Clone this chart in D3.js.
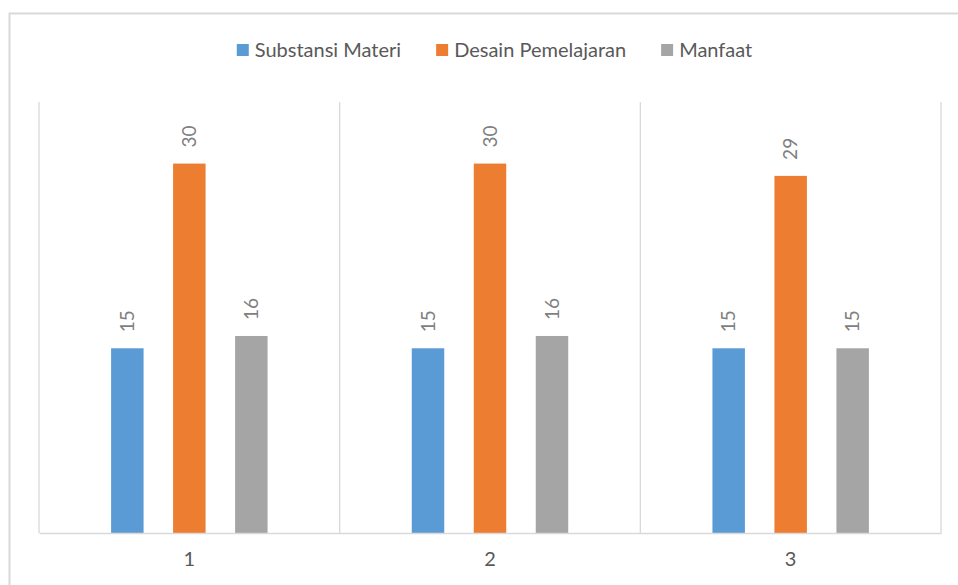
<!DOCTYPE html>
<html>
<head>
<meta charset="utf-8">
<script src="https://cdn.jsdelivr.net/npm/d3@7"></script>
<style>
  html, body { margin: 0; padding: 0; background: #ffffff; }
  svg { display: block; }
</style>
</head>
<body>
<script>
const categories = ["1", "2", "3"];
const seriesNames = ["Substansi Materi", "Desain Pemelajaran", "Manfaat"];
const substansiMateri = [15, 15, 15];
const desainPemelajaran = [30, 30, 29];
const manfaat = [16, 16, 15];
const seriesColors = ["#5b9bd5", "#ed7d31", "#a5a5a5"];
const yMax = 35;

const seriesValues = [substansiMateri, desainPemelajaran, manfaat];
const W = 958, H = 585;
const FONT = "Lato, 'Open Sans', sans-serif";

const svg = d3.select("body").append("svg").attr("width", W).attr("height", H);

// outer chart frame (extends past the window on the right and bottom)
svg.append("rect")
  .attr("x", 9.5).attr("y", 13.5).attr("width", 1000).attr("height", 700)
  .attr("fill", "#fff").attr("stroke", "#d9d9d9").attr("stroke-width", 2);

const plot = { left: 39, right: 941, top: 102, bottom: 533 };

const x0 = d3.scaleBand().domain(categories).range([plot.left, plot.right]).padding(0);
const x1 = d3.scaleBand().domain(seriesNames)
  .range([0, x0.bandwidth()])
  .paddingInner(0.476).paddingOuter(1.163);
const y = d3.scaleLinear().domain([0, yMax]).range([plot.bottom, plot.top]);

// vertical category separators
const seps = [plot.left].concat(categories.map(c => x0(c) + x0.bandwidth()));
svg.append("g").selectAll("line").data(seps).join("line")
  .attr("x1", d => d).attr("x2", d => d)
  .attr("y1", plot.top).attr("y2", plot.bottom)
  .attr("stroke", "#d9d9d9").attr("stroke-width", 1.3);

// bars
const rows = [];
categories.forEach((c, i) => {
  seriesNames.forEach((s, j) => rows.push({ cat: c, s, j, v: seriesValues[j][i] }));
});

svg.append("g").selectAll("rect").data(rows).join("rect")
  .attr("x", d => x0(d.cat) + x1(d.s))
  .attr("y", d => y(d.v))
  .attr("width", x1.bandwidth())
  .attr("height", d => y(0) - y(d.v))
  .attr("fill", d => seriesColors[d.j]);

// data labels (rotated)
svg.append("g").selectAll("text").data(rows).join("text")
  .attr("transform", d => `translate(${x0(d.cat) + x1(d.s) + x1.bandwidth() / 2},${y(d.v) - 16}) rotate(-90)`)
  .attr("text-anchor", "start")
  .attr("dy", "0.35em")
  .attr("font-family", FONT).attr("font-size", 19)
  .attr("fill", "#7f7f7f")
  .text(d => d.v);

// x axis baseline
const xAxis = d3.axisBottom(x0).tickSize(0).tickPadding(19);
const gx = svg.append("g").attr("transform", `translate(0,${plot.bottom})`).call(xAxis);
gx.select(".domain").attr("stroke", "#d9d9d9").attr("stroke-width", 1.3);
gx.selectAll("text").attr("font-family", FONT).attr("font-size", 20).attr("fill", "#595959");

// legend
const leg = svg.append("g");
const items = leg.selectAll("g").data(seriesNames).join("g");
items.append("rect").attr("width", 12).attr("height", 12).attr("y", -6)
  .attr("fill", (d, i) => seriesColors[i]);
items.append("text").attr("x", 18).attr("dy", "0.35em")
  .attr("font-family", FONT).attr("font-size", 20).attr("fill", "#595959")
  .text(d => d);
let widths = [];
items.each(function () { widths.push(this.getBBox().width); });
const gap = 35;
const total = d3.sum(widths) + gap * (widths.length - 1);
let cx = 494.5 - total / 2;
items.attr("transform", (d, i) => {
  const t = `translate(${cx},50)`;
  cx += widths[i] + gap;
  return t;
});
</script>
</body>
</html>
